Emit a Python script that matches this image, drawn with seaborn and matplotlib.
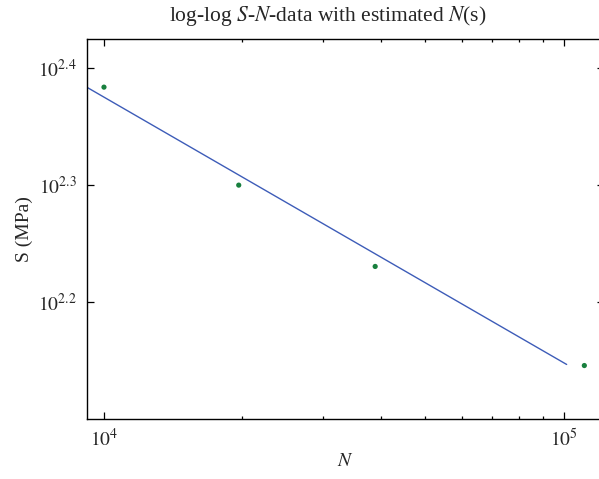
import numpy as np
import pandas as pd
import matplotlib
matplotlib.use("Agg")
import matplotlib.pyplot as plt
import matplotlib.ticker as mticker
import seaborn as sns

# Observed S-N data
N_data = [10000, 19640, 38900, 110900]
S_data = [242.1, 199.5, 169.9, 139.7]

# Estimated N(s) line (endpoints)
N_line = [9170, 101500]
S_line = [242.1, 140.0]

y_tick_exps = [2.2, 2.3, 2.4]
y_tick_labels = [r"$10^{2.2}$", r"$10^{2.3}$", r"$10^{2.4}$"]
x_tick_exps = [4, 5]
x_tick_labels = [r"$10^{4}$", r"$10^{5}$"]

sns.set_style("ticks")
plt.rcParams["font.family"] = ["Liberation Serif", "DejaVu Serif"]
plt.rcParams["mathtext.fontset"] = "stix"

fig = plt.figure(figsize=(5.99, 4.79), dpi=100)
ax = fig.add_axes([0.1447, 0.1259, 0.8637, 0.7927])

df_line = pd.DataFrame({"N": N_line, "S": S_line})
df_pts = pd.DataFrame({"N": N_data, "S": S_data})

sns.lineplot(data=df_line, x="N", y="S", ax=ax, color="#3d5cb8", lw=1.0)
sns.scatterplot(data=df_pts, x="N", y="S", ax=ax, color="#18803e", s=14,
                edgecolor="none", zorder=3)

ax.set_xscale("log")
ax.set_yscale("log")
ax.set_xlim(9170, 122400)
ax.set_ylim(10 ** 2.0996, 10 ** 2.4253)

ax.xaxis.set_major_locator(mticker.FixedLocator([10 ** e for e in x_tick_exps]))
ax.xaxis.set_major_formatter(mticker.FixedFormatter(x_tick_labels))
ax.xaxis.set_minor_locator(mticker.FixedLocator([m * 10 ** 4 for m in range(2, 10)]))
ax.xaxis.set_minor_formatter(mticker.NullFormatter())
ax.yaxis.set_major_locator(mticker.FixedLocator([10 ** e for e in y_tick_exps]))
ax.yaxis.set_major_formatter(mticker.FixedFormatter(y_tick_labels))
ax.yaxis.set_minor_locator(mticker.NullLocator())

ax.tick_params(which="both", direction="in", top=True, right=True, width=0.9,
               labelsize=14, color="black", pad=7)
ax.tick_params(which="major", length=5)
ax.tick_params(which="minor", length=2.5)
for sp in ax.spines.values():
    sp.set_linewidth(1.0)
    sp.set_color("black")
ax.spines["right"].set_visible(False)

ax.set_xlabel(r"$N$", fontsize=14, labelpad=2)
ax.set_ylabel("S (MPa)", fontsize=14, labelpad=4)
fig.text(328 / 599, 1 - 21 / 479, r"log-log $S$-$N$-data with estimated $N$(s)",
         fontsize=15.5, ha="center", va="baseline")

fig.savefig("out.png", dpi=100)
